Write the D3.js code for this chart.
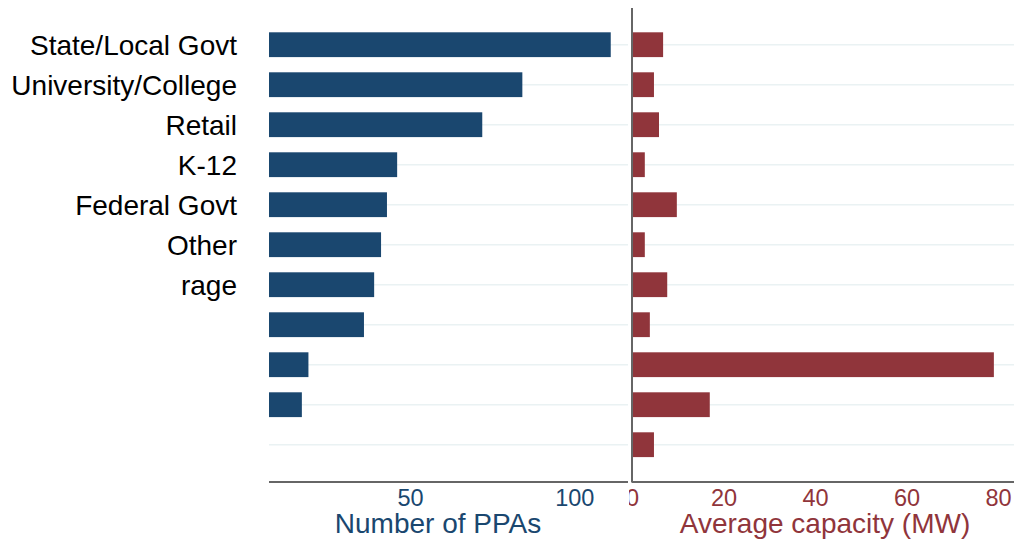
<!DOCTYPE html>
<html>
<head>
<meta charset="utf-8">
<script src="https://cdn.jsdelivr.net/npm/d3@7"></script>
<style>
  body { margin: 0; background: #fff; }
  svg { display: block; font-family: "Liberation Sans", Arial, sans-serif; }
</style>
</head>
<body>
<script>
// categories (only the first ones carry a label in the picture)
const categories = ["State/Local Govt", "University/College", "Retail", "K-12", "Federal Govt", "Other", "rage", "", "", "", ""];
const numPPAs = [111.1, 84.2, 72.0, 46.1, 43.0, 41.2, 39.1, 36.0, 19.1, 17.1, 0];
const avgCapacity = [6.8, 4.8, 5.9, 2.8, 9.8, 2.8, 7.7, 3.9, 79.1, 17.0, 4.8];
const leftTicks = [50, 100];
const rightTicks = [0, 20, 40, 60, 80];

const width = 1014, height = 543;
const blue = "#1a476f", red = "#90353b";

let svg = d3.select("body").append("svg")
  .attr("width", width)
  .attr("height", height);

// clip so the right panel "0" is cut at the panel edge like the original
svg.append("defs").append("clipPath").attr("id", "rclip")
  .append("rect").attr("x", 629).attr("y", 0).attr("width", 400).attr("height", height);

// rows
let y = d3.scaleBand()
  .domain(d3.range(categories.length))
  .range([24.7, 464.7])
  .paddingInner(0.38)
  .paddingOuter(0.19);

// left panel: bars start at the panel edge (value 7.1)
let leftBase = 7.1;
let xL = d3.scaleLinear().domain([leftBase, 116.2]).range([269, 627.5]);
// right panel
let xR = d3.scaleLinear().domain([0, 83.5]).range([632, 1014]);

// gridlines
svg.append("g").selectAll("line")
  .data(categories)
  .enter().append("line")
  .attr("x1", 269).attr("x2", 628)
  .attr("y1", (d, i) => y(i) + y.bandwidth() / 2)
  .attr("y2", (d, i) => y(i) + y.bandwidth() / 2)
  .attr("stroke", "#eaf2f3").attr("stroke-width", 1.5);
svg.append("g").selectAll("line")
  .data(categories)
  .enter().append("line")
  .attr("x1", 632).attr("x2", 1014)
  .attr("y1", (d, i) => y(i) + y.bandwidth() / 2)
  .attr("y2", (d, i) => y(i) + y.bandwidth() / 2)
  .attr("stroke", "#eaf2f3").attr("stroke-width", 1.5);

// left bars
svg.append("g").selectAll("rect")
  .data(numPPAs)
  .enter().append("rect")
  .attr("x", xL(leftBase))
  .attr("y", (d, i) => y(i))
  .attr("width", d => Math.max(0, xL(d) - xL(leftBase)))
  .attr("height", y.bandwidth())
  .attr("fill", blue);

// right bars
svg.append("g").selectAll("rect")
  .data(avgCapacity)
  .enter().append("rect")
  .attr("x", xR(0))
  .attr("y", (d, i) => y(i))
  .attr("width", d => xR(d) - xR(0))
  .attr("height", y.bandwidth())
  .attr("fill", red);

// category labels
svg.append("g").selectAll("text")
  .data(categories)
  .enter().append("text")
  .attr("x", 237)
  .attr("y", (d, i) => y(i) + y.bandwidth() / 2 + 10.5)
  .attr("text-anchor", "end")
  .attr("font-size", 28)
  .attr("fill", "#000")
  .text(d => d);

// axes lines
svg.append("line").attr("x1", 269).attr("x2", 628).attr("y1", 482).attr("y2", 482)
  .attr("stroke", "#333").attr("stroke-width", 1.5);
svg.append("line").attr("x1", 632).attr("x2", 1014).attr("y1", 482).attr("y2", 482)
  .attr("stroke", "#333").attr("stroke-width", 1.5);
svg.append("line").attr("x1", 632).attr("x2", 632).attr("y1", 8).attr("y2", 482.5)
  .attr("stroke", "#666").attr("stroke-width", 2);

// tick labels
let axL = d3.axisBottom(xL).tickValues(leftTicks).tickSize(0).tickPadding(0);
svg.append("g").attr("transform", "translate(0,482)").call(axL)
  .call(g => g.select(".domain").remove())
  .selectAll("text")
  .attr("y", 23.5).attr("dy", null)
  .attr("font-size", 23.5).attr("font-family", "Liberation Sans, Arial, sans-serif")
  .attr("fill", blue);

let axR = d3.axisBottom(xR).tickValues(rightTicks).tickSize(0).tickPadding(0);
svg.append("g").attr("transform", "translate(0,482)")
  .attr("clip-path", "url(#rclip)")
  .call(axR)
  .call(g => g.select(".domain").remove())
  .selectAll("text")
  .attr("y", 23.5).attr("dy", null)
  .attr("font-size", 23.5).attr("font-family", "Liberation Sans, Arial, sans-serif")
  .attr("fill", red);

// axis titles
svg.append("text").attr("x", 438).attr("y", 533)
  .attr("text-anchor", "middle").attr("font-size", 28).attr("fill", blue)
  .text("Number of PPAs");
svg.append("text").attr("x", 825).attr("y", 533)
  .attr("text-anchor", "middle").attr("font-size", 28).attr("fill", red)
  .text("Average capacity (MW)");
</script>
</body>
</html>
